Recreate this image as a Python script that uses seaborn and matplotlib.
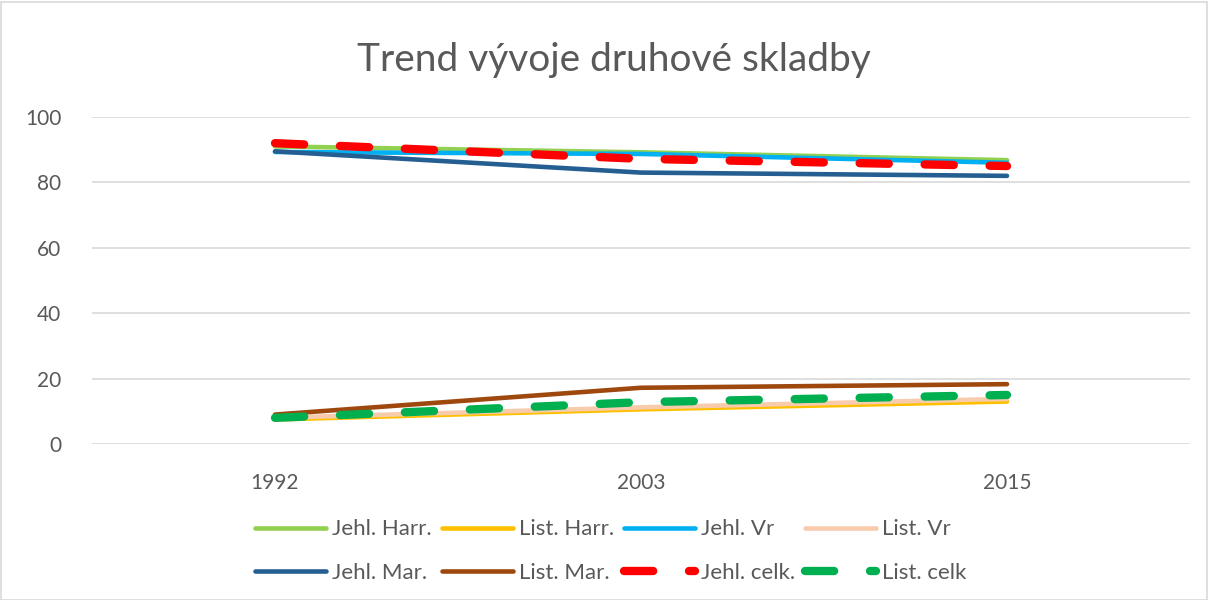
import pandas as pd
import matplotlib.pyplot as plt
import seaborn as sns
from matplotlib.patches import Rectangle

# Data
years = ['1992', '2003', '2015']
series_names = ['Jehl. Harr.', 'List. Harr.', 'Jehl. Vr', 'List. Vr',
                'Jehl. Mar.', 'List. Mar.', 'Jehl. celk.', 'List. celk']
jehl_harr = [91.0, 89.2, 86.8]
list_harr = [7.5, 10.6, 13.0]
jehl_vr = [89.3, 88.7, 86.0]
list_vr = [8.0, 11.2, 13.8]
jehl_mar = [89.5, 83.0, 82.0]
list_mar = [9.0, 17.2, 18.3]
jehl_celk = [92.0, 87.2, 85.0]
list_celk = [8.0, 12.8, 15.0]

values = [jehl_harr, list_harr, jehl_vr, list_vr,
          jehl_mar, list_mar, jehl_celk, list_celk]
colors = ['#92d050', '#ffc000', '#00b0f0', '#f8cbad',
          '#255e91', '#9e480e', '#ff0000', '#00b050']
dashed = [False, False, False, False, False, False, True, True]

sns.set_style('white')
plt.rcParams['font.family'] = ['Lato', 'DejaVu Sans']

fig = plt.figure(figsize=(12.08, 6.0), dpi=100)
ax = fig.add_axes([92 / 1208, 1 - 444 / 600, 1098 / 1208, 327 / 600])

for name, vals, col, dsh in zip(series_names, values, colors, dashed):
    df = pd.DataFrame({'Rok': years, 'Hodnota': vals})
    if dsh:
        sns.lineplot(data=df, x='Rok', y='Hodnota', ax=ax, color=col,
                     linewidth=6.0, label=name)
        l = ax.lines[-1]
        l.set_dashes((3.5, 4.3))
    else:
        sns.lineplot(data=df, x='Rok', y='Hodnota', ax=ax, color=col,
                     linewidth=3.3, label=name)
        l = ax.lines[-1]
    l.set_solid_capstyle('round')
    l.set_dash_capstyle('round')
    l.set_solid_joinstyle('round')
    l.set_clip_on(False)

ax.set_xlim(-0.5, 2.5)
ax.set_ylim(0, 100)
ax.set_yticks(range(0, 101, 20))
ax.grid(axis='y', color='#d9d9d9', linewidth=1.2)
ax.set_axisbelow(True)
for s in ax.spines.values():
    s.set_visible(False)
ax.set_xlabel('')
ax.set_ylabel('')
ax.tick_params(axis='both', length=0, labelsize=15, colors='#595959')
ax.tick_params(axis='y', pad=22)
ax.tick_params(axis='x', pad=21)

# legend filled row by row (4 columns, 2 rows)
handles, labels = ax.get_legend_handles_labels()
order = [0, 4, 1, 5, 2, 6, 3, 7]
ax.legend_.remove()
fig.legend([handles[i] for i in order], [labels[i] for i in order], ncol=4,
           loc='center', bbox_to_anchor=(611 / 1208, 1 - 551 / 600),
           frameon=False, fontsize=16, labelcolor='#595959', handlelength=3.2,
           handletextpad=0.27, columnspacing=0.45, labelspacing=1.05)

fig.text(614 / 1208, 1 - 60 / 600, 'Trend vývoje druhové skladby', ha='center', va='center',
         fontsize=28, color='#595959')

fig.patches.append(Rectangle((0.5 / 1208, 0.5 / 600), 1206 / 1208, 598 / 600,
                             transform=fig.transFigure, fill=False,
                             edgecolor='#d9d9d9', linewidth=1.2))

plt.savefig('out.png', dpi=100)
